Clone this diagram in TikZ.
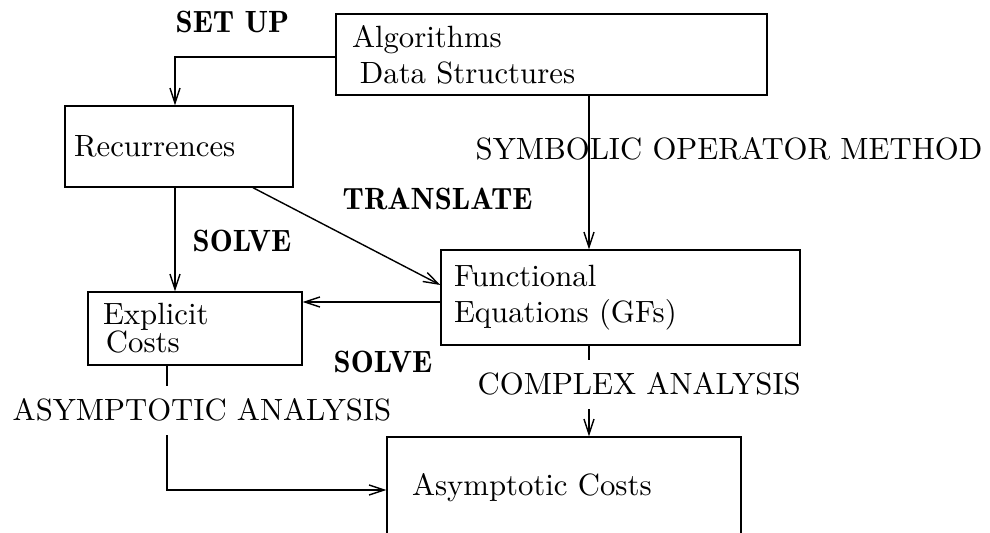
\documentclass[tikz,border=0pt]{standalone}
\usepackage{fontspec}
\setmainfont{lmroman10-regular.otf}[BoldFont=lmromandemi10-regular.otf]
\usepackage{tikz}
\usetikzlibrary{positioning,arrows.meta}

\begin{document}
\begin{tikzpicture}[>={Straight Barb[length=3mm,width=2mm]},line width=0.8pt,
  font=\fontsize{17.5}{20.5}\selectfont,
  box/.style={draw,align=left,inner ysep=0pt},
  lab/.style={inner sep=0pt,anchor=base west},
  boldlab/.style={lab,font=\fontsize{17.5}{20.5}\selectfont\bfseries},
  cutlab/.style={lab,fill=white,inner ysep=7.5pt}]
\path[use as bounding box,clip] (0,0) rectangle (19.8,10.66);
\node[box,minimum height=1.62cm,inner xsep=0.32cm,text width=7.98cm] (alg) at (11.03,9.57) {Algorithms\\\hspace*{4.5pt}Data Structures};
\node[box,minimum height=1.62cm,inner xsep=0.18cm,text width=4.20cm] (rec) at (3.58,7.73) {Recurrences};
\node[box,minimum height=1.90cm,inner xsep=0.26cm,text width=6.66cm] (func) at (12.41,4.71) {Functional\\Equations (GFs)};
\node[box,minimum height=1.46cm,inner xsep=0.30cm,text width=3.68cm] (expl) at (3.90,4.09) {Explicit\\[-4.5pt]\hspace*{1.7pt}Costs};
\node[box,minimum height=2.02cm,inner xsep=0.50cm,text width=6.08cm] (asy) at (11.28,0.91) {Asymptotic Costs};
% connectors
\draw[->] ([yshift=-0.05cm]alg.west) -| ([xshift=-0.08cm]rec.north);
\draw[->] ([xshift=-0.08cm]rec.south) -- ([xshift=-0.08cm]rec.south |- expl.north);
\draw[->] ([xshift=1.48cm]rec.south) -- ([yshift=0.25cm]func.west);
\draw[->] ([xshift=0.75cm]alg.south) coordinate (s) -- (s |- func.north);
\draw[->] ([yshift=-0.09cm]func.west) -- ([yshift=-0.09cm]func.west -| expl.east);
\draw[->] ([xshift=-0.63cm]func.south) coordinate (c) -- (c |- asy.north);
\draw[->] ([xshift=-0.56cm]expl.south) |- ([yshift=-0.05cm]asy.west);
% labels
\node[boldlab] (setup) at (3.50,10.00) {SET UP};
\node[lab] (symb) at (9.50,7.46) {SYMBOLIC OPERATOR METHOD};
\node[boldlab] (transl) at (6.84,6.46) {TRANSLATE};
\node[boldlab] (solveA) at (3.84,5.62) {SOLVE};
\node[boldlab] (solveB) at (6.66,3.20) {SOLVE};
\node[cutlab] (cplx) at (9.54,2.76) {COMPLEX ANALYSIS};
\node[cutlab] (asan) at (0.24,2.24) {ASYMPTOTIC ANALYSIS};
\end{tikzpicture}
\end{document}
